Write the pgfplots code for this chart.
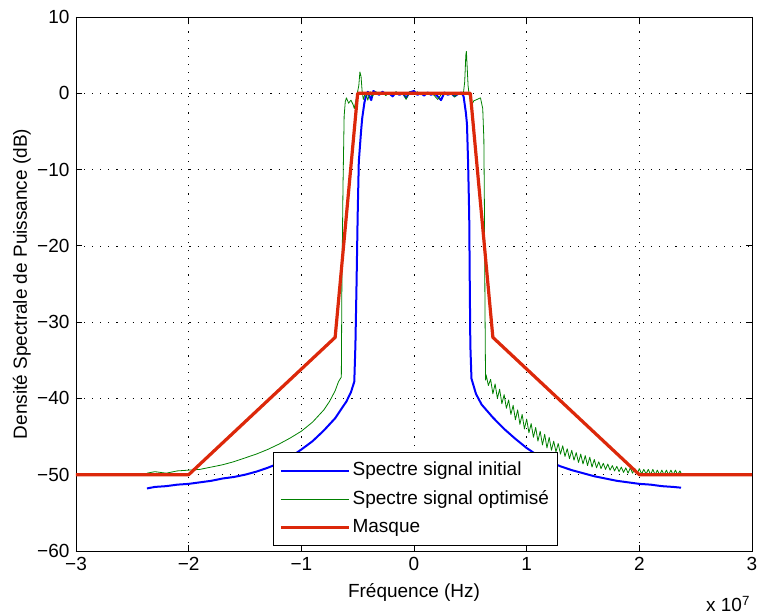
\documentclass[border=0pt]{standalone}
\usepackage{fontspec}
\setmainfont{Liberation Sans}
\usepackage{pgfplots}
\pgfplotsset{compat=1.18}
\definecolor{mred}{RGB}{220,40,10}
\definecolor{mblue}{RGB}{0,0,255}
\definecolor{mgreen}{RGB}{0,128,0}
\begin{document}
\fontsize{19}{23}\selectfont
\begin{tikzpicture}
\useasboundingbox (-76pt,-64pt) rectangle (686pt,551pt);
\begin{axis}[at={(0pt,0pt)}, anchor=south west, scale only axis,
  width=676pt, height=534pt,
  xmin=-3, xmax=3, ymin=-60, ymax=10,
  xtick={-3,-2,-1,0,1,2,3}, xticklabels={−3,−2,−1,0,1,2,3},
  ytick={-60,-50,-40,-30,-20,-10,0,10}, yticklabels={−60,−50,−40,−30,−20,−10,0,10},
  /pgf/number format/assume math mode=true,
  tick align=inside, major tick length=6pt,
  tick style={black, line width=0.8pt},
  axis line style={line width=0.9pt},
  grid=major, major grid style={black, line width=0.6pt, dash pattern=on 1.1pt off 7pt},
  xlabel={Fréquence (Hz)}, ylabel={Densité Spectrale de Puissance (dB)},
  xlabel style={at={(axis description cs:0.5,-0.077)}, anchor=center},
  ylabel style={at={(axis description cs:-0.08,0.5)}, anchor=center},
  legend cell align=left,
  legend style={at={(axis description cs:0.2914,0.0094)}, anchor=south west, draw=black, line width=0.8pt, fill=white, inner xsep=6pt, inner ysep=8pt, row sep=8pt, cells={anchor=west}},
  legend image code/.code={\path (0pt,0pt) -- (68pt,0pt); \draw[#1] (10pt,0pt) -- (68pt,0pt);},
  clip=true,
]
\addplot[mblue, line width=2pt, line join=round] coordinates {
(-2.37,-51.8) (-2.3,-51.6) (-2.2,-51.5) (-2.1,-51.3) (-2.0,-51.2) (-1.9,-51.0) (-1.8,-50.8) (-1.7,-50.5) (-1.6,-50.3) (-1.5,-50.0) (-1.4,-49.6) (-1.3,-49.1) (-1.2,-48.5) (-1.1,-47.7) (-1.0,-46.7) (-0.9,-45.6) (-0.8,-44.2) (-0.7,-42.6) (-0.6,-40.4) (-0.56,-39.2) (-0.53,-37.8) (-0.52,-33) (-0.51,-25) (-0.50,-16) (-0.49,-9) (-0.47,-5) (-0.46,-3.3) (-0.44,-1.2) (-0.43,-0.6) (-0.41,0.2) (-0.38,-0.9) (-0.36,0.3) (-0.34,0.1) (-0.31,-0.2) (-0.28,0.2) (-0.25,-0.1) (-0.22,0.0) (-0.19,-0.4) (-0.16,0.1) (-0.13,-0.2) (-0.1,0.0) (-0.07,-0.6) (-0.04,0.1) (0,0.3) (0.03,-0.2) (0.06,0.0) (0.09,-0.3) (0.12,0.1) (0.15,-0.2) (0.18,0.0) (0.21,-0.4) (0.24,-0.9) (0.27,0.1) (0.30,-0.2) (0.33,0.0) (0.36,-0.4) (0.39,-0.1) (0.42,0.1) (0.44,-0.4) (0.46,-2.5) (0.47,-4) (0.48,-9) (0.49,-16) (0.495,-25) (0.5,-33) (0.51,-37.4) (0.55,-39.4) (0.6,-40.8) (0.7,-42.5) (0.8,-44.0) (0.9,-45.3) (1.0,-46.5) (1.1,-47.5) (1.2,-48.3) (1.3,-48.9) (1.4,-49.4) (1.5,-49.8) (1.6,-50.2) (1.7,-50.5) (1.8,-50.8) (1.9,-51.0) (2.0,-51.2) (2.1,-51.3) (2.2,-51.5) (2.3,-51.6) (2.37,-51.7)
};
\addlegendentry{Spectre signal initial}
\addplot[mgreen, line width=0.8pt, line join=round] coordinates {
(-2.37,-49.8) (-2.3,-49.6) (-2.2,-49.8) (-2.1,-49.5) (-2.0,-49.4) (-1.9,-49.3) (-1.8,-49.0) (-1.7,-48.7) (-1.6,-48.3) (-1.5,-47.8) (-1.4,-47.3) (-1.3,-46.7) (-1.2,-46.0) (-1.1,-45.2) (-1.0,-44.3) (-0.9,-43.1) (-0.8,-41.5) (-0.75,-40.4) (-0.7,-39.0) (-0.67,-37.8) (-0.645,-37.2) (-0.64,-25) (-0.63,-12) (-0.62,-3) (-0.61,-1.1) (-0.6,-0.6) (-0.58,-1.3) (-0.56,-0.9) (-0.54,-1.5) (-0.53,-2.0) (-0.51,-0.5) (-0.49,1.0) (-0.48,2.8) (-0.47,2.2) (-0.46,0.2) (-0.45,-0.8) (-0.43,0.1) (-0.41,-0.9) (-0.39,0.2) (-0.37,-0.4) (-0.34,0.2) (-0.31,-0.1) (-0.28,0.1) (-0.25,-0.3) (-0.22,0.1) (-0.19,-0.2) (-0.16,0.2) (-0.13,-0.1) (-0.1,0.1) (-0.07,-0.8) (-0.04,0.2) (0,-0.1) (0.03,0.2) (0.06,-0.2) (0.09,0.1) (0.12,-0.1) (0.15,0.1) (0.18,-0.3) (0.21,-0.8) (0.24,-0.2) (0.27,0.1) (0.30,-0.2) (0.33,0.1) (0.36,-0.5) (0.39,0.0) (0.42,0.0) (0.44,0.2) (0.45,1.5) (0.46,5.0) (0.465,5.5) (0.47,4.0) (0.48,1.0) (0.49,-0.3) (0.51,-1.6) (0.53,-1.0) (0.56,-0.8) (0.59,-0.6) (0.61,-2.0) (0.62,-6) (0.625,-15) (0.63,-28) (0.635,-37.6)
(0.64,-36.9) (0.66,-38.3) (0.68,-37.5) (0.70,-39.4) (0.72,-38.1) (0.74,-40.0) (0.76,-38.8) (0.78,-40.7) (0.80,-39.5) (0.82,-41.3) (0.84,-40.2) (0.86,-42.1) (0.88,-40.9) (0.90,-42.8) (0.92,-41.5) (0.94,-43.4) (0.96,-42.1) (0.98,-44.0) (1.00,-42.7) (1.02,-44.5) (1.04,-43.3) (1.06,-45.1) (1.08,-43.8) (1.10,-45.6) (1.12,-44.3) (1.14,-46.1) (1.16,-44.7) (1.18,-46.5) (1.20,-45.1) (1.22,-46.8) (1.24,-45.6) (1.26,-47.0) (1.28,-45.9) (1.30,-47.3) (1.32,-46.2) (1.34,-47.6) (1.36,-46.6) (1.38,-47.9) (1.40,-46.8) (1.42,-48.1) (1.44,-47.1) (1.46,-48.4) (1.48,-47.3) (1.50,-48.6) (1.52,-47.5) (1.54,-48.8) (1.56,-47.7) (1.58,-49.0) (1.60,-48.0) (1.62,-49.1) (1.64,-48.3) (1.66,-49.2) (1.68,-48.5) (1.70,-49.3) (1.72,-48.6) (1.74,-49.4) (1.76,-48.8) (1.78,-49.5) (1.80,-48.9) (1.82,-49.6) (1.84,-49.0) (1.86,-49.7) (1.88,-49.1) (1.90,-49.8) (1.92,-49.1) (1.94,-49.8) (1.96,-49.2) (1.98,-49.9) (2.00,-49.2) (2.02,-49.9) (2.04,-49.3) (2.06,-49.9) (2.08,-49.3) (2.10,-50.0) (2.12,-49.3) (2.14,-50.0) (2.16,-49.4) (2.18,-50.0) (2.20,-49.4) (2.22,-50.0) (2.24,-49.4) (2.26,-50.0) (2.28,-49.4) (2.30,-50.0) (2.32,-49.4) (2.34,-50.0) (2.36,-49.5) (2.37,-49.8)
};
\addlegendentry{Spectre signal optimisé}
\addplot[mred, line width=3.2pt, line join=round] coordinates {
(-3,-50) (-2,-50) (-0.7,-32) (-0.5,0) (0.5,0) (0.7,-32) (2,-50) (3,-50)
};
\addlegendentry{Masque}
\end{axis}
\node[anchor=center] at (652pt,-53pt) {x 10\textsuperscript{7}};
\end{tikzpicture}
\end{document}
